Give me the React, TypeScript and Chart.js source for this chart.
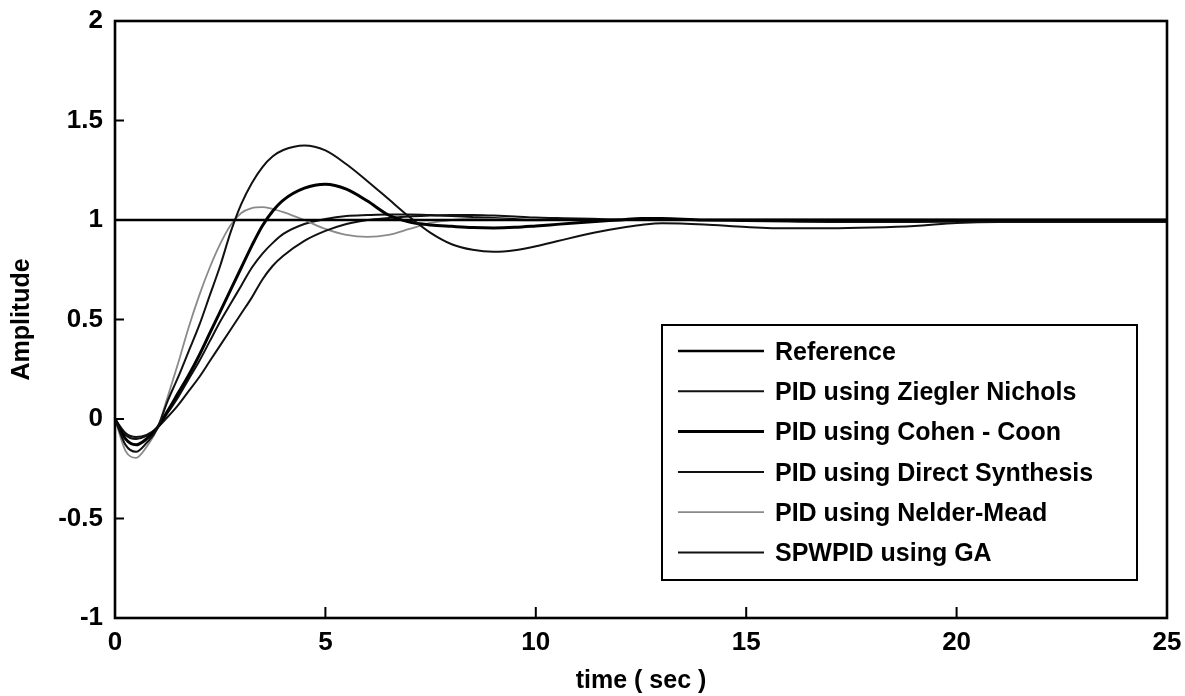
import React, { useEffect, useRef } from 'react';
import { Chart, registerables } from 'chart.js';
Chart.register(...registerables);

const time = [0, 0.25, 0.5, 0.75, 1, 1.25, 1.5, 1.75, 2, 2.25, 2.5, 2.75, 3, 3.25, 3.5, 3.75, 4,
  4.5, 5, 5.5, 6, 6.5, 7, 7.5, 8, 8.5, 9, 9.5, 10, 10.5, 11, 11.5, 12, 12.5, 13,
  14, 15, 16, 17, 18, 19, 20, 21, 22, 23, 24, 25];

const referenceTime = [0, 25];
const referenceValues = [1, 1];

const zieglerNichols = [0, -0.13, -0.165, -0.12, -0.05, 0.09, 0.21, 0.34, 0.47, 0.62, 0.77, 0.94, 1.08, 1.185, 1.265, 1.32, 1.352,
  1.375, 1.35, 1.28, 1.195, 1.105, 1.015, 0.935, 0.878, 0.85, 0.84, 0.848, 0.868, 0.893, 0.918, 0.941, 0.96, 0.975, 0.984,
  0.978, 0.965, 0.958, 0.958, 0.962, 0.97, 0.985, 0.99, 0.99, 0.99, 0.99, 0.99];

const cohenCoon = [0, -0.1, -0.13, -0.1, -0.045, 0.04, 0.13, 0.22, 0.32, 0.43, 0.54, 0.65, 0.76, 0.87, 0.97, 1.045, 1.1,
  1.16, 1.18, 1.155, 1.095, 1.025, 0.99, 0.975, 0.968, 0.962, 0.96, 0.963, 0.97, 0.978, 0.986, 0.994, 1.0, 1.008, 1.008,
  1.0, 1.0, 1.0, 1.0, 1.0, 1.0, 1.0, 1.0, 1.0, 1.0, 1.0, 1.0];

const directSynthesis = [0, -0.07, -0.09, -0.08, -0.045, 0.01, 0.07, 0.14, 0.21, 0.29, 0.37, 0.45, 0.53, 0.61, 0.7, 0.77, 0.82,
  0.895, 0.945, 0.98, 1.0, 1.01, 1.018, 1.022, 1.025, 1.025, 1.022, 1.018, 1.012, 1.01, 1.008, 1.005, 1.002, 1.0, 1.0,
  1.0, 0.995, 0.992, 0.99, 0.99, 0.99, 0.992, 0.995, 0.995, 0.995, 0.995, 0.995];

const nelderMead = [0, -0.16, -0.195, -0.14, -0.05, 0.11, 0.28, 0.46, 0.62, 0.76, 0.88, 0.975, 1.035, 1.06, 1.065, 1.055, 1.04,
  1.0, 0.955, 0.925, 0.915, 0.925, 0.955, 0.985, 1.0, 1.005, 1.005, 1.0, 0.998, 1.0, 1.0, 1.0, 1.0, 1.0, 1.0,
  1.0, 1.0, 1.0, 1.0, 1.0, 1.0, 1.0, 1.0, 1.0, 1.0, 1.0, 1.0];

const spwpidGA = [0, -0.08, -0.1, -0.085, -0.045, 0.03, 0.11, 0.2, 0.29, 0.39, 0.49, 0.58, 0.67, 0.76, 0.83, 0.885, 0.93,
  0.98, 1.005, 1.02, 1.025, 1.028, 1.028, 1.025, 1.02, 1.015, 1.01, 1.005, 1.0, 1.0, 1.0, 1.0, 1.0, 1.0, 1.0,
  1.0, 1.0, 1.0, 1.0, 1.0, 1.0, 1.0, 1.0, 1.0, 1.0, 1.0, 1.0];

const seriesLabels = [
  'Reference',
  'PID using Ziegler Nichols',
  'PID using Cohen - Coon',
  'PID using Direct Synthesis',
  'PID using Nelder-Mead',
  'SPWPID using GA',
];

const xTicks = [0, 5, 10, 15, 20, 25];
const yTicks = [-1, -0.5, 0, 0.5, 1, 1.5, 2];
const xTickLabels = ['0', '5', '10', '15', '20', '25'];
const yTickLabels = ['-1', '-0.5', '0', '0.5', '1', '1.5', '2'];

const FONT = '"Liberation Sans", Arial, Helvetica, sans-serif';

const toPoints = (xs: number[], ys: number[]) => xs.map((x, i) => ({ x, y: ys[i] }));

const framePlugin = {
  id: 'matlabFrame',
  afterDatasetsDraw(chart: any) {
    const { ctx, chartArea, scales } = chart;
    const { left, right, top, bottom } = chartArea;
    ctx.save();
    ctx.strokeStyle = '#000';
    ctx.lineWidth = 2;
    ctx.beginPath();
    xTicks.forEach((v) => {
      const px = scales.x.getPixelForValue(v);
      ctx.moveTo(px, bottom);
      ctx.lineTo(px, bottom - 11);
    });
    yTicks.forEach((v) => {
      const py = scales.y.getPixelForValue(v);
      ctx.moveTo(left, py);
      ctx.lineTo(left + 9, py);
    });
    ctx.stroke();
    ctx.lineWidth = 2.6;
    ctx.strokeRect(left, top, right - left, bottom - top);

    // legend
    const bx = 662, by = 325, bw = 475, bh = 255;
    ctx.fillStyle = '#fff';
    ctx.fillRect(bx, by, bw, bh);
    ctx.lineWidth = 2;
    ctx.strokeRect(bx, by, bw, bh);
    ctx.font = `bold 25px ${FONT}`;
    ctx.textBaseline = 'middle';
    ctx.textAlign = 'left';
    chart.data.datasets.forEach((ds: any, i: number) => {
      const y = 351 + i * 40.3;
      ctx.strokeStyle = ds.borderColor;
      ctx.lineWidth = ds.borderWidth;
      ctx.beginPath();
      ctx.moveTo(678, y);
      ctx.lineTo(764, y);
      ctx.stroke();
      ctx.fillStyle = '#000';
      ctx.fillText(ds.label, 775, y + 2);
    });
    ctx.restore();
  },
};

export default function App() {
  const ref = useRef<HTMLCanvasElement>(null);
  useEffect(() => {
    if (!ref.current) return;
    const common = { pointRadius: 0, fill: false, cubicInterpolationMode: 'monotone' as const };
    const chart = new Chart(ref.current, {
      type: 'line',
      data: {
        datasets: [
          { label: seriesLabels[0], data: toPoints(referenceTime, referenceValues), borderColor: '#000', borderWidth: 2.6, ...common },
          { label: seriesLabels[1], data: toPoints(time, zieglerNichols), borderColor: '#111', borderWidth: 2, ...common },
          { label: seriesLabels[2], data: toPoints(time, cohenCoon), borderColor: '#000', borderWidth: 3, ...common },
          { label: seriesLabels[3], data: toPoints(time, directSynthesis), borderColor: '#111', borderWidth: 2, ...common },
          { label: seriesLabels[4], data: toPoints(time, nelderMead), borderColor: '#8a8a8a', borderWidth: 1.8, ...common },
          { label: seriesLabels[5], data: toPoints(time, spwpidGA), borderColor: '#111', borderWidth: 2, ...common },
        ],
      },
      options: {
        animation: false,
        responsive: false,
        maintainAspectRatio: false,
        events: [],
        layout: { padding: { top: 21, right: 18, left: 0, bottom: 0 } },
        plugins: { legend: { display: false }, tooltip: { enabled: false }, title: { display: false } },
        scales: {
          x: {
            type: 'linear',
            min: 0,
            max: 25,
            grid: { display: false, drawTicks: false, tickLength: 0 },
            border: { display: false },
            afterBuildTicks: (scale: any) => { scale.ticks = xTicks.map((v) => ({ value: v })); },
            afterFit: (scale: any) => {
              scale.height = 78;
              scale.paddingLeft = 0;
              scale.paddingRight = 0;
            },
            ticks: {
              padding: 9,
              color: '#000',
              font: { family: FONT, size: 26, weight: 'bold' },
              maxRotation: 0,
              callback: (v: any) => xTickLabels[xTicks.indexOf(Number(v))] ?? '',
            },
            title: {
              display: true,
              text: 'time ( sec )',
              color: '#000',
              font: { family: FONT, size: 25, weight: 'bold' },
              padding: { top: 0, bottom: 0 },
            },
          },
          y: {
            type: 'linear',
            min: -1,
            max: 2,
            grid: { display: false, drawTicks: false, tickLength: 0 },
            border: { display: false },
            afterBuildTicks: (scale: any) => { scale.ticks = yTicks.map((v) => ({ value: v })); },
            afterFit: (scale: any) => {
              scale.width = 115;
              scale.paddingTop = 0;
              scale.paddingBottom = 0;
            },
            ticks: {
              padding: 12,
              color: '#000',
              font: { family: FONT, size: 26, weight: 'bold' },
              callback: (v: any) => yTickLabels[yTicks.indexOf(Number(v))] ?? '',
            },
            title: {
              display: true,
              text: 'Amplitude',
              color: '#000',
              font: { family: FONT, size: 25, weight: 'bold' },
              padding: { top: 7, bottom: 0 },
            },
          },
        },
      },
      plugins: [framePlugin],
    });
    return () => chart.destroy();
  }, []);
  return (
    <div style={{ position: 'fixed', left: 0, top: 0, width: 1185, height: 696, background: '#fff' }}>
      <canvas ref={ref} width={1185} height={696} style={{ display: 'block' }} />
    </div>
  );
}
